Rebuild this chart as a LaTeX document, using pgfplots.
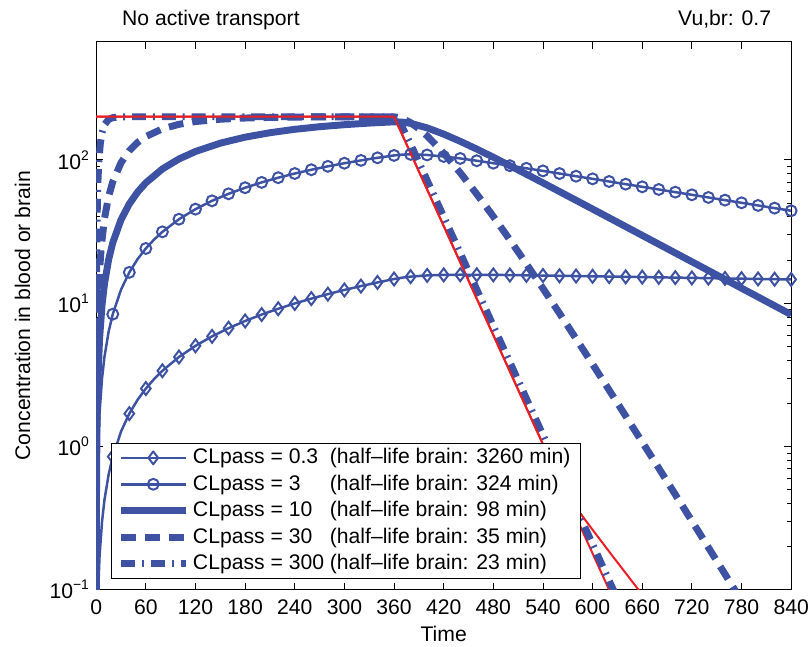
\documentclass[border=0pt]{standalone}
\usepackage{fontspec}
\setmainfont{Liberation Sans}
\usepackage{pgfplots}
\pgfplotsset{compat=1.18}
\definecolor{mblue}{RGB}{62,82,163}
\definecolor{mred}{RGB}{235,30,35}
\newlength\clw
\newcommand\sups[1]{\raisebox{0.8ex}{\fontsize{14}{14}\selectfont #1}}
\begin{document}
\fontsize{21.3}{25}\selectfont
\settowidth{\clw}{CLpass = 300\ }
\begin{tikzpicture}
\begin{axis}[
  at={(0pt,0pt)}, anchor=south west,
  scale only axis, width=700pt, height=552pt,
  xmin=0, xmax=840, ymode=log, ymin=0.1, ymax=668,
  xtick={0,60,...,840},
  ytick={0.1,1,10,100},
  yticklabels={10\sups{−1},10\sups{0},10\sups{1},10\sups{2}},
  /pgf/number format/assume math mode=true,
  scaled ticks=false,
  tick align=inside, major tick length=7pt, minor tick length=4pt,
  tick style={black, line width=0.8pt},
  axis line style={line width=1pt},
  xticklabel style={yshift=-3pt},
  xlabel={Time}, ylabel={Concentration in blood or brain},
  xlabel style={yshift=3pt},
  ylabel style={yshift=5pt},
  legend image code/.code={\draw[mark repeat=2,mark phase=2] plot coordinates {(0pt,0pt) (32.5pt,0pt) (65pt,0pt)};},
  legend style={at={(0.0214,0.0199)}, anchor=south west, draw=black, line width=1pt, fill=white,
     inner xsep=6pt, inner ysep=1.5pt, row sep=0pt,
     nodes={inner ysep=4pt, inner xsep=4pt}},
  legend cell align=left,
]
% red straight (beneath)
\addplot[mred, line width=2pt, forget plot] coordinates {(0,200) (360,200) (640,0.0556)};
% CLpass 0.3
\addplot[mblue, line width=2.5pt, line join=round,
  legend image post style={mark=diamond, mark size=6.5pt, mark options={solid, line width=2pt}}] coordinates {
(0.5,0.02126)(1,0.04252)(2,0.08503)(4,0.1700)(7,0.2975)(10,0.4248)(15,0.6368)(20,0.8486)(30,1.2716)(40,1.6936)(50,2.1148)(60,2.535)(70,2.954)(80,3.373)(100,4.207)(120,5.038)(140,5.865)(160,6.689)(180,7.509)(200,8.326)(220,9.139)(240,9.949)(260,10.755)(280,11.558)(300,12.358)(320,13.154)(340,13.947)(360,14.736)(370,15.07)(380,15.316)(400,15.609)(420,15.743)(440,15.787)(460,15.781)(480,15.749)(500,15.702)(520,15.645)(540,15.585)(560,15.523)(580,15.459)(600,15.394)(620,15.330)(640,15.265)(660,15.200)(680,15.135)(700,15.071)(720,15.007)(740,14.944)(760,14.880)(780,14.817)(800,14.754)(820,14.692)(840,14.630)};
\addlegendentry{\makebox[\clw][l]{CLpass = 0.3}(half–life brain: 3260 min)}
\addplot[mblue, only marks, forget plot, mark=diamond, mark size=6.5pt, mark options={line width=2pt}] coordinates {
(20,0.8486)(40,1.6936)(60,2.535)(80,3.373)(100,4.207)(120,5.038)(140,5.865)(160,6.689)(180,7.509)(200,8.326)(220,9.139)(240,9.949)(260,10.755)(280,11.558)(300,12.358)(320,13.154)(340,13.947)(360,14.736)(380,15.316)(400,15.609)(420,15.743)(440,15.787)(460,15.781)(480,15.749)(500,15.702)(520,15.645)(540,15.585)(560,15.523)(580,15.459)(600,15.394)(620,15.330)(640,15.265)(660,15.200)(680,15.135)(700,15.071)(720,15.007)(740,14.944)(760,14.880)(780,14.817)(800,14.754)(820,14.692)(840,14.630)};
% CLpass 3
\addplot[mblue, line width=2.5pt, line join=round,
  legend image post style={mark=o, mark size=5.5pt, mark options={solid, line width=2pt}}] coordinates {
(0.2,0.0855)(0.5,0.2138)(1,0.4274)(2,0.854)(4,1.704)(7,2.972)(10,4.232)(15,6.316)(20,8.376)(30,12.43)(40,16.40)(50,20.29)(60,24.08)(70,27.81)(80,31.45)(100,38.52)(120,45.29)(140,51.78)(160,57.96)(180,63.91)(200,69.62)(220,75.08)(240,80.30)(260,85.31)(280,90.12)(300,94.73)(320,99.14)(340,103.36)(360,107.4)(370,108.8)(380,109.2)(400,108.2)(420,105.6)(440,102.3)(460,98.6)(480,94.8)(500,91.05)(520,87.34)(540,83.75)(560,80.27)(580,76.91)(600,73.72)(620,70.64)(640,67.68)(660,64.85)(680,62.13)(700,59.53)(720,57.04)(740,54.65)(760,52.36)(780,50.16)(800,48.07)(820,46.05)(840,44.13)};
\addlegendentry{\makebox[\clw][l]{CLpass = 3}(half–life brain: 324 min)}
\addplot[mblue, only marks, forget plot, mark=o, mark size=5.5pt, mark options={line width=2pt}] coordinates {
(20,8.376)(40,16.40)(60,24.08)(80,31.45)(100,38.52)(120,45.29)(140,51.78)(160,57.96)(180,63.91)(200,69.62)(220,75.08)(240,80.30)(260,85.31)(280,90.12)(300,94.73)(320,99.14)(340,103.36)(360,107.4)(380,109.2)(400,108.2)(420,105.6)(440,102.3)(460,98.6)(480,94.8)(500,91.05)(520,87.34)(540,83.75)(560,80.27)(580,76.91)(600,73.72)(620,70.64)(640,67.68)(660,64.85)(680,62.13)(700,59.53)(720,57.04)(740,54.65)(760,52.36)(780,50.16)(800,48.07)(820,46.05)(840,44.13)};
% CLpass 10
\addplot[mblue, line width=7pt, line join=round] coordinates {
(0.05,0.0707)(0.2,0.2826)(0.5,0.706)(1,1.410)(2,2.81)(4,5.58)(7,9.66)(10,13.66)(15,20.13)(20,26.39)(30,38.24)(40,49.28)(50,59.58)(60,69.16)(80,86.42)(100,101.4)(120,114.4)(150,130.8)(180,144.0)(210,154.7)(240,163.4)(270,170.4)(300,176.0)(330,180.6)(360,184.3)(370,183.5)(380,179.8)(400,167.2)(420,151.3)(440,134.7)(460,118.9)(480,104.3)(510,85.08)(540,69.14)(600,45.37)(660,29.71)(720,19.45)(780,12.72)(840,8.32)};
\addlegendentry{\makebox[\clw][l]{CLpass = 10}(half–life brain: 98 min)}
% CLpass 30
\addplot[mblue, line width=7pt, line join=round, dash pattern=on 15pt off 9pt] coordinates {
(0.02,0.0866)(0.1,0.433)(0.25,1.080)(0.5,2.15)(1,4.29)(2,8.48)(4,16.6)(6,24.4)(10,39.0)(15,55.5)(20,70.3)(30,95.6)(40,115.9)(50,132.3)(60,145.5)(80,164.6)(100,177.1)(120,185.1)(150,192.2)(180,195.9)(220,198.3)(260,199.3)(300,199.7)(360,199.9)(370,194.6)(380,181.8)(390,165.1)(400,146.9)(420,111.4)(440,81.3)(460,57.7)(480,40.24)(500,27.67)(520,18.80)(540,12.67)(560,8.49)(600,3.75)(640,1.63)(680,0.705)(720,0.302)(760,0.1285)(780,0.0838)};
\addlegendentry{\makebox[\clw][l]{CLpass = 30}(half–life brain: 35 min)}
% CLpass 300
\addplot[mblue, line width=7pt, line join=round, dash pattern=on 14pt off 7pt on 2pt off 7pt] coordinates {
(0.002,0.085)(0.01,0.424)(0.05,2.109)(0.2,8.30)(0.5,20.1)(1,38.2)(2,69.1)(3,94.1)(5,130.7)(7,154.7)(10,176.0)(15,191.7)(20,197.1)(30,199.7)(40,200)(360,200)(365,189.4)(370,169.3)(380,128.8)(400,72.0)(420,40.1)(440,22.4)(460,12.46)(480,6.94)(500,3.87)(520,2.155)(540,1.201)(560,0.669)(580,0.373)(600,0.2077)(620,0.1157)(640,0.0645)};
\addlegendentry{\makebox[\clw][l]{CLpass = 300}(half–life brain: 23 min)}
% red curved (on top)
\addplot[mred, line width=2pt, line join=round, forget plot] coordinates {
(0,200)(360,200)(400,62.1)(450,14.39)(500,3.334)(520,1.858)(540,1.035)(550,0.776)(560,0.592)(570,0.462)(580,0.376)(590,0.313)(600,0.262)(620,0.1845)(640,0.1306)(660,0.0925)};
\end{axis}
\node[anchor=base west, inner sep=0pt] at (26pt,568pt) {No active transport};
\node[anchor=base east, inner sep=0pt] at (680pt,568pt) {Vu,br: 0.7};
\pgfresetboundingbox
\useasboundingbox (-91pt,-57pt) rectangle (720pt,594pt);
\end{tikzpicture}
\end{document}
